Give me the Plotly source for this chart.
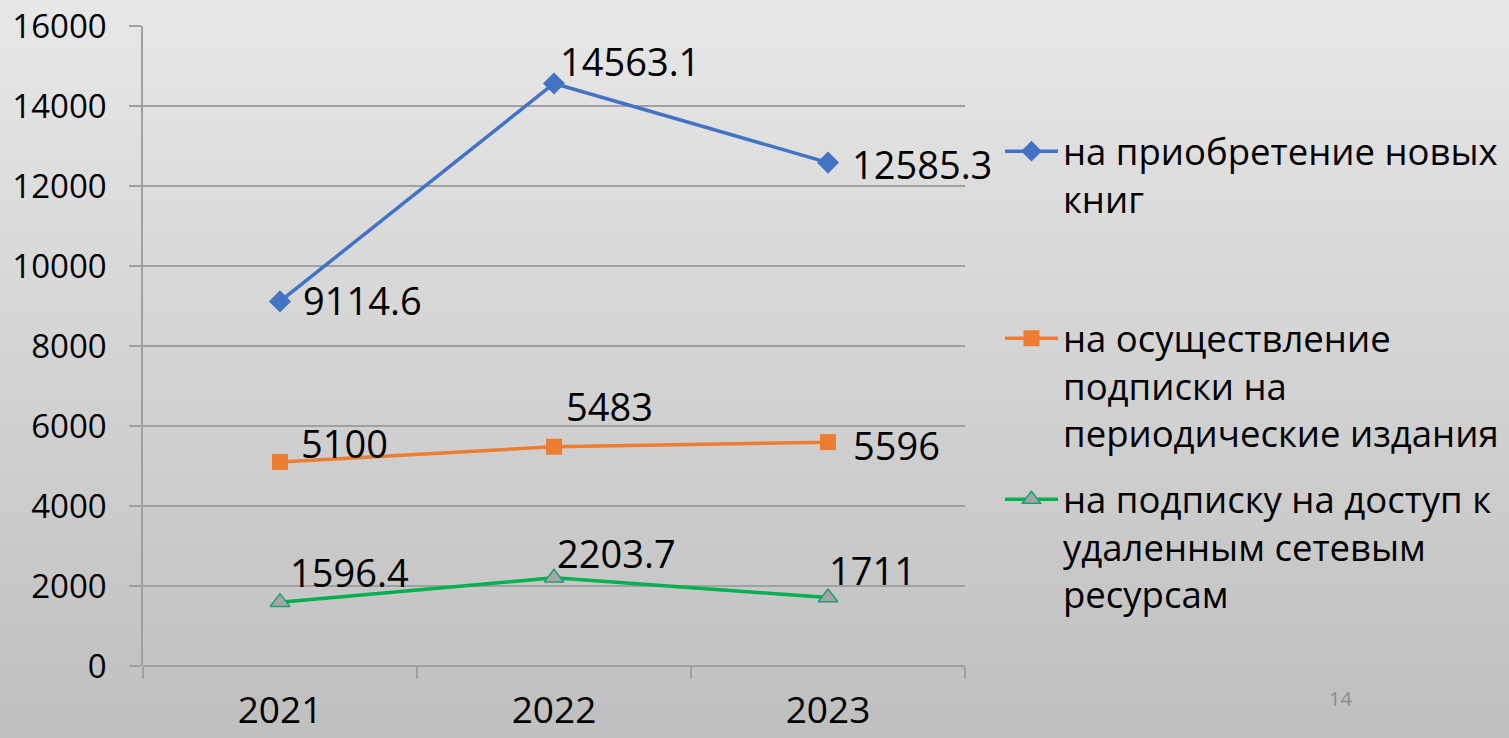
import plotly.graph_objects as go

years = ["2021", "2022", "2023"]
books = [9114.6, 14563.1, 12585.3]
periodicals = [5100, 5483, 5596]
remote = [1596.4, 2203.7, 1711]
series_names = [
    "на приобретение новых<br>книг",
    "на осуществление<br>подписки на<br>периодические издания",
    "на подписку на доступ к<br>удаленным сетевым<br>ресурсам",
]
y_ticks = [0, 2000, 4000, 6000, 8000, 10000, 12000, 14000, 16000]

W, H = 1509, 738
FONT = "Open Sans"
ml, mr, mt, mb = 143, W - 965, 26, H - 666
pw, ph = W - ml - mr, H - mt - mb


def px_x(x):
    return (x - ml) / pw


def px_y(y):
    return 1 - (y - mt) / ph


fig = go.Figure()

fig.add_trace(go.Scatter(
    x=years, y=books, name=series_names[0], mode="lines+markers",
    line=dict(color="#4472C4", width=3.5),
    marker=dict(symbol="diamond", size=17, color="#4472C4"),
    legend="legend",
))
fig.add_trace(go.Scatter(
    x=years, y=periodicals, name=series_names[1], mode="lines+markers",
    line=dict(color="#ED7D31", width=3.5),
    marker=dict(symbol="square", size=16, color="#ED7D31"),
    legend="legend2",
))
fig.add_trace(go.Scatter(
    x=years, y=remote, name=series_names[2], mode="lines+markers",
    line=dict(color="#00B050", width=3.5),
    marker=dict(symbol="triangle-up", size=17, color="#A5A5A5",
                line=dict(color="#1E9E72", width=1.5)),
    legend="legend3",
))

# data labels: (xshift, yshift) styling offsets per point
offsets = {
    0: [(21, 1), (4, 22), (22, -1)],
    1: [(19, 19), (10, 41), (23, -3)],
    2: [(8, 30), (1, 25), (-1, 28)],
}
for si, vals in enumerate([books, periodicals, remote]):
    for pi, v in enumerate(vals):
        dx, dy = offsets[si][pi]
        fig.add_annotation(
            x=pi, y=v, xref="x", yref="y", text=f"{v:g}", showarrow=False,
            xanchor="left", yanchor="middle", xshift=dx, yshift=dy,
            font=dict(family=FONT, size=38, color="#000000"),
        )

# slide number
fig.add_annotation(
    x=px_x(1340), y=px_y(698), xref="paper", yref="paper", text="14",
    showarrow=False, xanchor="center", yanchor="middle",
    font=dict(family=FONT, size=20, color="#8C8C8C"),
)

# gradient background stripes
shapes = []
n = 74
c0 = (0xE7, 0xE7, 0xE7)
c1 = (0xBF, 0xBF, 0xBF)
for i in range(n):
    t = i / (n - 1)
    c = tuple(round(c0[k] + (c1[k] - c0[k]) * t) for k in range(3))
    ytop = i * H / n
    ybot = (i + 1) * H / n + 1
    shapes.append(dict(
        type="rect", xref="paper", yref="paper",
        x0=px_x(0), x1=px_x(W),
        y0=px_y(ytop), y1=px_y(ybot),
        fillcolor=f"rgb{c}", line=dict(width=0), layer="below",
    ))

legend_common = dict(
    xref="container", yref="container", xanchor="left", yanchor="top",
    bgcolor="rgba(0,0,0,0)", borderwidth=0, itemwidth=53, valign="top",
    font=dict(family=FONT, size=36.5, color="#000000"),
    itemclick=False, itemdoubleclick=False,
)

fig.update_layout(
    width=W, height=H,
    margin=dict(l=ml, r=mr, t=mt, b=mb, autoexpand=False),
    paper_bgcolor="#D3D3D3", plot_bgcolor="rgba(0,0,0,0)",
    shapes=shapes,
    showlegend=True,
    legend=dict(x=1000 / W, y=1 - 121 / H, **legend_common),
    legend2=dict(x=1000 / W, y=1 - 308 / H, **legend_common),
    legend3=dict(x=1000 / W, y=1 - 469 / H, **legend_common),
    xaxis=dict(
        type="category", range=[-0.5, 2.5], tickson="boundaries",
        ticks="outside", ticklen=12, tickwidth=1.5, tickcolor="#A0A0A0",
        showgrid=False, showline=False, zeroline=False,
        tickfont=dict(family=FONT, size=37, color="#000000"),
        ticklabelstandoff=19,
    ),
    yaxis=dict(
        range=[0, 16000], tickvals=y_ticks, ticktext=[str(v) for v in y_ticks],
        ticks="outside", ticklen=12, tickwidth=1.5, tickcolor="#A0A0A0",
        showgrid=True, gridcolor="#A0A0A0", gridwidth=1.5,
        showline=True, linecolor="#A0A0A0", linewidth=1.5,
        zeroline=True, zerolinecolor="#A0A0A0", zerolinewidth=1.5,
        tickfont=dict(family=FONT, size=33, color="#000000"),
        ticklabelstandoff=16,
    ),
)

fig.write_html(
    "out.html",
    config={"displayModeBar": False},
    post_script="document.body.style.margin='0px';document.body.style.overflow='hidden';",
)
